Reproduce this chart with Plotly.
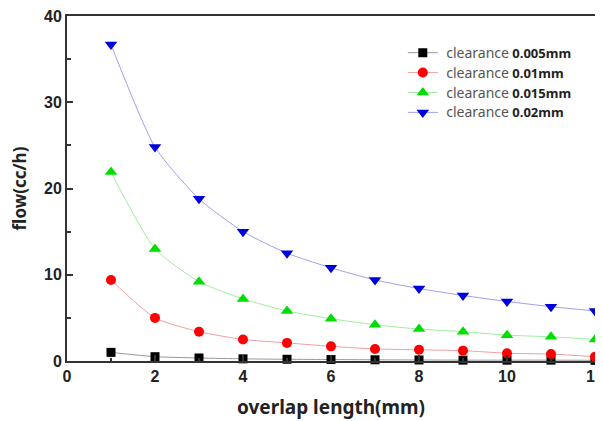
import plotly.graph_objects as go

overlap = [1, 2, 3, 4, 5, 6, 7, 8, 9, 10, 11, 12]
flow_0005 = [1.0, 0.5, 0.35, 0.25, 0.2, 0.17, 0.14, 0.12, 0.1, 0.1, 0.1, 0.08]
flow_001 = [9.4, 5.0, 3.4, 2.5, 2.1, 1.7, 1.4, 1.3, 1.2, 0.9, 0.8, 0.5]
flow_0015 = [21.9, 13.0, 9.2, 7.2, 5.8, 4.9, 4.2, 3.7, 3.4, 3.0, 2.8, 2.5]
flow_002 = [36.7, 24.8, 18.8, 15.0, 12.5, 10.8, 9.4, 8.4, 7.6, 6.9, 6.3, 5.8]

series = [
    ("0.005mm", flow_0005, "black", "#999999", "square", 9),
    ("0.01mm", flow_001, "red", "#f0a0a0", "circle", 10),
    ("0.015mm", flow_0015, "#00dd00", "#a0eea0", "triangle-up", 11),
    ("0.02mm", flow_002, "#0000dd", "#a0a0f0", "triangle-down", 11),
]

fig = go.Figure()
for name, vals, mc, lc, sym, sz in series:
    fig.add_trace(go.Scatter(
        x=overlap, y=vals, mode="lines+markers",
        name=" <span style='font-size:14px'>clearance</span> <b><span style='font-size:13px;color:#222'>" + name + "</span></b>",
        line=dict(color=lc, width=1, shape="spline", smoothing=0.6),
        marker=dict(color=mc, symbol=sym, size=sz),
        cliponaxis=False,
    ))

axis_common = dict(
    showline=True, linecolor="#333", linewidth=2, mirror=True,
    ticks="inside", ticklen=6, tickcolor="#333", tickwidth=2,
    showgrid=False, zeroline=False, automargin=False,
    ticklabeloverflow="allow",
    tickfont=dict(family="Liberation Sans, Arial", size=16, color="#222"),
)

fig.update_xaxes(range=[0, 12], dtick=2, tickprefix="<b>", ticksuffix="</b>",
                 title=dict(text="<b>overlap length(mm)</b>", standoff=16,
                            font=dict(family="Noto Sans, Liberation Sans", size=19, color="#222")),
                 minor=dict(ticks="inside", dtick=1, ticklen=3, tickcolor="#333"),
                 **axis_common)
fig.update_yaxes(range=[0, 40], dtick=10, tickprefix="<b>", ticksuffix="</b>",
                 title=dict(text="<b>flow(cc/h)</b>", standoff=18,
                            font=dict(family="Noto Sans, Liberation Sans", size=17, color="#222")),
                 minor=dict(ticks="inside", dtick=5, ticklen=4, tickcolor="#333"),
                 **axis_common)

# page body has an 8px margin, so the figure is 8px smaller on each axis
fig.update_layout(
    width=595, height=413,
    margin=dict(l=59, r=8, t=8, b=60),
    plot_bgcolor="white", paper_bgcolor="white",
    showlegend=True,
    legend=dict(x=0.636, y=0.937, xanchor="left", yanchor="top",
                bgcolor="rgba(0,0,0,0)", borderwidth=0,
                font=dict(family="Noto Sans, Liberation Sans", size=13, color="#555"),
                tracegroupgap=0),
)

fig.write_html("out.html")
